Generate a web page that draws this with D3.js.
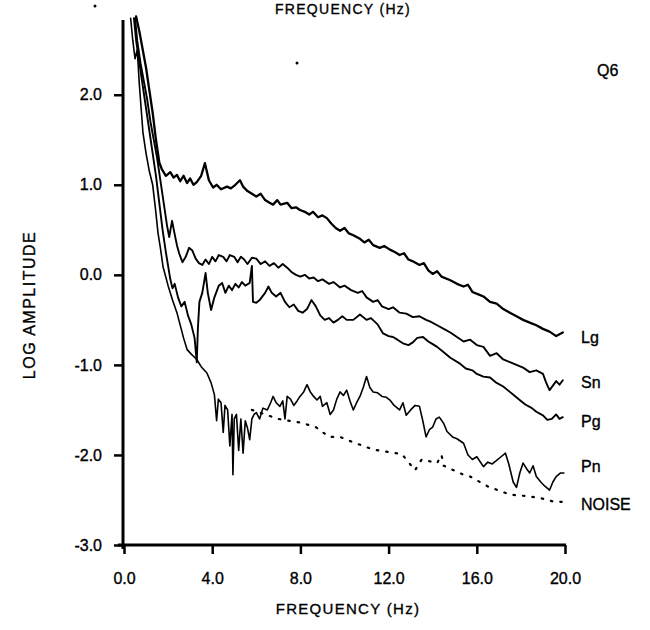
<!DOCTYPE html>
<html><head><meta charset="utf-8">
<script src="https://cdn.jsdelivr.net/npm/d3@7"></script>
<style>
body{margin:0;background:#fff;}
text{font-family:"Liberation Sans",Arial,sans-serif;fill:#000;stroke:#000;stroke-width:0.35px;}
</style></head>
<body><svg id="c" width="650" height="630"></svg>
<script>
const xTicks = [0, 4, 8, 12, 16, 20];
const xTickLabels = ["0.0", "4.0", "8.0", "12.0", "16.0", "20.0"];
const yTicks = [2, 1, 0, -1, -2, -3];
const yTickLabels = ["2.0", "1.0", "0.0", "-1.0", "-2.0", "-3.0"];
const seriesNames = ["Lg", "Sn", "Pg", "Pn", "NOISE"];
const seriesLabelValues = [-0.7, -1.19, -1.63, -2.13, -2.55];

const lgData = [[0.55,2.87],[0.7,2.7],[0.85,2.5],[1.0,2.3],[1.15,2.05],[1.3,1.8],[1.45,1.5],[1.6,1.25],[1.72,1.17],[1.9,1.1],[2.1,1.14],[2.25,1.08],[2.4,1.11],[2.55,1.04],[2.7,1.1],[2.86,1.02],[3.0,1.07],[3.15,1.0],[3.3,1.03],[3.5,1.1],[3.67,1.24],[3.85,1.05],[4.04,0.97],[4.2,1.0],[4.4,0.95],[4.67,0.98],[4.85,0.96],[5.05,1.0],[5.26,1.05],[5.4,0.98],[5.6,0.93],[5.8,0.9],[6.0,0.87],[6.2,0.9],[6.4,0.83],[6.6,0.8],[6.76,0.78],[6.95,0.83],[7.1,0.78],[7.4,0.8],[7.6,0.74],[7.8,0.75],[7.98,0.72],[8.2,0.7],[8.4,0.67],[8.57,0.7],[8.8,0.64],[9.0,0.66],[9.2,0.63],[9.4,0.57],[9.6,0.52],[9.8,0.49],[10.0,0.52],[10.2,0.46],[10.4,0.44],[10.7,0.4],[10.9,0.36],[11.1,0.39],[11.3,0.33],[11.6,0.3],[11.8,0.32],[12.06,0.28],[12.3,0.25],[12.5,0.22],[12.7,0.24],[12.9,0.17],[13.1,0.15],[13.4,0.11],[13.6,0.13],[13.8,0.05],[14.0,0.01],[14.2,0.04],[14.4,-0.02],[14.8,-0.06],[15.1,-0.1],[15.4,-0.13],[15.6,-0.11],[15.8,-0.19],[16.1,-0.22],[16.3,-0.24],[16.6,-0.3],[16.9,-0.32],[17.2,-0.38],[17.5,-0.42],[17.8,-0.46],[18.1,-0.5],[18.4,-0.53],[18.7,-0.56],[19.0,-0.6],[19.3,-0.63],[19.6,-0.68],[19.75,-0.66],[19.9,-0.64]];

const snData = [[0.5,2.85],[0.6,2.6],[0.75,2.35],[0.9,2.15],[1.05,1.95],[1.2,1.7],[1.35,1.5],[1.5,1.3],[1.65,1.05],[1.8,0.8],[1.95,0.55],[2.05,0.42],[2.18,0.6],[2.3,0.45],[2.4,0.33],[2.5,0.24],[2.65,0.14],[2.8,0.2],[2.95,0.3],[3.1,0.27],[3.25,0.18],[3.4,0.13],[3.55,0.11],[3.7,0.17],[3.85,0.12],[4.0,0.2],[4.15,0.15],[4.3,0.22],[4.5,0.2],[4.65,0.15],[4.8,0.22],[5.0,0.2],[5.15,0.14],[5.3,0.2],[5.45,0.17],[5.6,0.12],[5.8,0.19],[6.0,0.18],[6.2,0.12],[6.4,0.15],[6.6,0.1],[6.8,0.13],[7.0,0.08],[7.2,0.12],[7.4,0.08],[7.6,0.03],[7.8,0.0],[8.0,-0.02],[8.2,0.0],[8.4,-0.04],[8.6,-0.03],[8.8,-0.07],[9.0,-0.05],[9.3,-0.1],[9.5,-0.08],[9.8,-0.14],[10.0,-0.12],[10.3,-0.17],[10.6,-0.2],[10.8,-0.18],[11.0,-0.25],[11.3,-0.3],[11.5,-0.28],[11.7,-0.35],[12.0,-0.38],[12.2,-0.36],[12.5,-0.42],[12.8,-0.43],[13.1,-0.47],[13.4,-0.46],[13.7,-0.5],[13.9,-0.52],[14.2,-0.56],[14.5,-0.6],[14.8,-0.64],[15.1,-0.69],[15.4,-0.74],[15.7,-0.72],[16.0,-0.78],[16.3,-0.8],[16.6,-0.9],[16.9,-0.87],[17.2,-0.94],[17.5,-0.97],[17.8,-1.0],[18.1,-1.03],[18.4,-1.08],[18.7,-1.06],[19.0,-1.1],[19.15,-1.2],[19.3,-1.28],[19.45,-1.23],[19.6,-1.18],[19.75,-1.22],[19.9,-1.17]];

const pgData = [[0.45,2.85],[0.55,2.6],[0.7,2.35],[0.85,2.1],[1.0,1.85],[1.15,1.6],[1.3,1.35],[1.45,1.1],[1.6,0.8],[1.75,0.5],[1.9,0.25],[2.0,0.1],[2.1,-0.05],[2.2,-0.15],[2.3,-0.1],[2.45,-0.25],[2.6,-0.35],[2.75,-0.3],[2.9,-0.45],[3.05,-0.55],[3.2,-0.7],[3.3,-0.97],[3.35,-0.6],[3.42,-0.3],[3.55,-0.2],[3.7,0.02],[3.8,-0.2],[3.95,-0.39],[4.1,-0.25],[4.3,-0.12],[4.45,-0.09],[4.6,-0.2],[4.75,-0.12],[4.9,-0.17],[5.05,-0.1],[5.2,-0.14],[5.35,-0.08],[5.5,-0.12],[5.7,-0.09],[5.8,0.1],[5.85,-0.3],[6.0,-0.31],[6.15,-0.28],[6.4,-0.2],[6.55,-0.13],[6.7,-0.2],[6.9,-0.24],[7.1,-0.2],[7.3,-0.3],[7.5,-0.36],[7.7,-0.33],[7.9,-0.4],[8.1,-0.42],[8.3,-0.38],[8.5,-0.28],[8.7,-0.35],[8.9,-0.45],[9.1,-0.5],[9.3,-0.48],[9.5,-0.53],[9.7,-0.5],[9.9,-0.46],[10.1,-0.5],[10.4,-0.5],[10.7,-0.44],[11.0,-0.5],[11.2,-0.48],[11.5,-0.55],[11.75,-0.65],[12.0,-0.68],[12.2,-0.69],[12.4,-0.72],[12.65,-0.76],[12.9,-0.78],[13.1,-0.75],[13.3,-0.7],[13.56,-0.69],[13.8,-0.74],[14.0,-0.77],[14.2,-0.8],[14.5,-0.86],[14.8,-0.92],[15.2,-0.98],[15.5,-1.04],[15.8,-1.06],[16.0,-1.1],[16.3,-1.13],[16.6,-1.14],[16.9,-1.2],[17.2,-1.24],[17.4,-1.28],[17.7,-1.34],[18.0,-1.4],[18.2,-1.44],[18.5,-1.48],[18.7,-1.52],[19.0,-1.56],[19.2,-1.61],[19.4,-1.6],[19.6,-1.55],[19.75,-1.6],[19.9,-1.58]];

const pnData = [[0.3,2.85],[0.4,2.6],[0.5,2.4],[0.6,2.5],[0.7,2.1],[0.86,1.58],[1.0,1.35],[1.15,1.15],[1.3,1.0],[1.42,0.75],[1.54,0.47],[1.65,0.3],[1.77,0.09],[2.0,-0.12],[2.2,-0.28],[2.4,-0.42],[2.54,-0.55],[2.7,-0.7],[2.86,-0.83],[3.05,-0.88],[3.3,-0.94],[3.5,-1.02],[3.76,-1.09],[3.95,-1.2],[4.1,-1.33],[4.2,-1.62],[4.28,-1.38],[4.4,-1.42],[4.5,-1.75],[4.58,-1.45],[4.7,-1.5],[4.8,-1.9],[4.9,-1.55],[4.94,-2.22],[5.0,-1.6],[5.1,-1.55],[5.2,-1.95],[5.3,-1.6],[5.4,-1.98],[5.5,-1.62],[5.6,-1.7],[5.7,-1.83],[5.8,-1.6],[5.9,-1.55],[6.0,-1.53],[6.15,-1.6],[6.3,-1.48],[6.5,-1.5],[6.65,-1.42],[6.76,-1.35],[6.9,-1.42],[7.07,-1.46],[7.2,-1.4],[7.3,-1.6],[7.4,-1.35],[7.55,-1.38],[7.7,-1.45],[7.85,-1.4],[7.98,-1.35],[8.15,-1.3],[8.3,-1.22],[8.45,-1.3],[8.6,-1.35],[8.75,-1.39],[8.9,-1.35],[9.0,-1.46],[9.2,-1.42],[9.35,-1.55],[9.5,-1.5],[9.65,-1.38],[9.8,-1.3],[9.95,-1.34],[10.1,-1.28],[10.25,-1.4],[10.4,-1.5],[10.55,-1.42],[10.7,-1.35],[10.85,-1.25],[11.0,-1.13],[11.15,-1.25],[11.3,-1.3],[11.5,-1.31],[11.7,-1.35],[11.9,-1.36],[12.06,-1.39],[12.25,-1.45],[12.5,-1.5],[12.65,-1.42],[12.8,-1.56],[13.0,-1.5],[13.2,-1.45],[13.4,-1.46],[13.55,-1.62],[13.7,-1.8],[13.85,-1.72],[14.0,-1.69],[14.15,-1.6],[14.3,-1.58],[14.5,-1.65],[14.65,-1.74],[14.9,-1.8],[15.1,-1.82],[15.4,-1.87],[15.6,-2.0],[15.8,-2.05],[16.0,-2.02],[16.3,-2.13],[16.5,-2.08],[16.7,-2.1],[16.9,-2.06],[17.1,-2.02],[17.3,-1.98],[17.45,-2.1],[17.65,-2.3],[17.8,-2.36],[17.95,-2.2],[18.1,-2.09],[18.25,-2.15],[18.4,-2.2],[18.55,-2.12],[18.7,-2.24],[18.9,-2.3],[19.1,-2.35],[19.3,-2.39],[19.45,-2.3],[19.6,-2.24],[19.8,-2.2],[19.95,-2.2]];

const noiseData = [[5.8,-1.5],[6.4,-1.55],[7.0,-1.6],[7.98,-1.64],[8.7,-1.69],[9.3,-1.8],[9.8,-1.8],[10.4,-1.86],[11.3,-1.94],[12.06,-1.97],[12.6,-1.99],[13.2,-2.17],[13.5,-2.05],[14.2,-2.09],[14.4,-2.0],[14.5,-2.12],[15.4,-2.22],[15.7,-2.24],[16.5,-2.35],[17.5,-2.44],[18.4,-2.46],[18.9,-2.48],[19.5,-2.52],[19.9,-2.52]];

const svg = d3.select("#c");
const x = d3.scaleLinear().domain([0, 20]).range([124, 565]);
const y = d3.scaleLinear().domain([-3, 2.83]).range([545, 20]);

// axes
const xAxis = svg.append("g").attr("transform", `translate(0,${y(-3)})`)
  .call(d3.axisBottom(x).tickValues(xTicks).tickSize(9).tickPadding(19)
    .tickFormat((d, i) => xTickLabels[i]));
const yAxis = svg.append("g").attr("transform", `translate(${x(0) - 1},0)`)
  .call(d3.axisLeft(y).tickValues(yTicks).tickSize(9).tickPadding(12)
    .tickFormat((d, i) => yTickLabels[i]));
[xAxis, yAxis].forEach(g => {
  g.select(".domain").attr("stroke", "#000").attr("stroke-width", 3);
  g.selectAll(".tick line").attr("stroke", "#000").attr("stroke-width", 2.5);
  g.selectAll(".tick text").attr("font-size", 16).attr("fill", "#000")
    .attr("font-family", "Liberation Sans, Arial, sans-serif");
});
xAxis.select(".domain").attr("d", `M${x(0) - 6},0H${x(20) + 1}`);
yAxis.select(".domain").attr("d", `M0,${y(-3) + 4}V${y(2.83)}`);

// series
const line = d3.line().x(d => x(d[0])).y(d => y(d[1]));
const styles = [
  {data: lgData, w: 2.3, dash: null},
  {data: snData, w: 1.9, dash: null},
  {data: pgData, w: 1.9, dash: null},
  {data: pnData, w: 1.6, dash: null},
  {data: noiseData, w: 2.2, dash: "1.5,8"}
];
styles.forEach(s => {
  svg.append("path").attr("d", line(s.data)).attr("fill", "none")
    .attr("stroke", "#000").attr("stroke-width", s.w)
    .attr("stroke-linejoin", "round").attr("stroke-linecap", "round")
    .attr("stroke-dasharray", s.dash);
});

// series labels
svg.selectAll(".slab").data(seriesNames).enter().append("text")
  .attr("class", "slab").attr("x", x(20) + 16).attr("y", (d, i) => y(seriesLabelValues[i]))
  .attr("dy", "0.35em").attr("font-size", 16).text(d => d);

svg.append("text").attr("x", 597).attr("y", 70).attr("dy", "0.35em")
  .attr("font-size", 16).text("Q6");

// axis titles
svg.append("text").attr("x", 348).attr("y", 609).attr("dy", "0.35em")
  .attr("text-anchor", "middle").attr("font-size", 15).attr("letter-spacing", 1.3)
  .text("FREQUENCY (Hz)");
svg.append("text").attr("x", 343).attr("y", 14)
  .attr("text-anchor", "middle").attr("font-size", 14).attr("letter-spacing", 1.3)
  .text("FREQUENCY (Hz)");
svg.append("text").attr("transform", "translate(29,305) rotate(-90)").attr("dy", "0.35em")
  .attr("text-anchor", "middle").attr("font-size", 16).attr("letter-spacing", 1.5)
  .text("LOG AMPLITUDE");

// scan specks
svg.append("circle").attr("cx", 95).attr("cy", 6).attr("r", 1.5).attr("fill", "#000");
svg.append("circle").attr("cx", 297).attr("cy", 63).attr("r", 1.5).attr("fill", "#000");
</script></body></html>
